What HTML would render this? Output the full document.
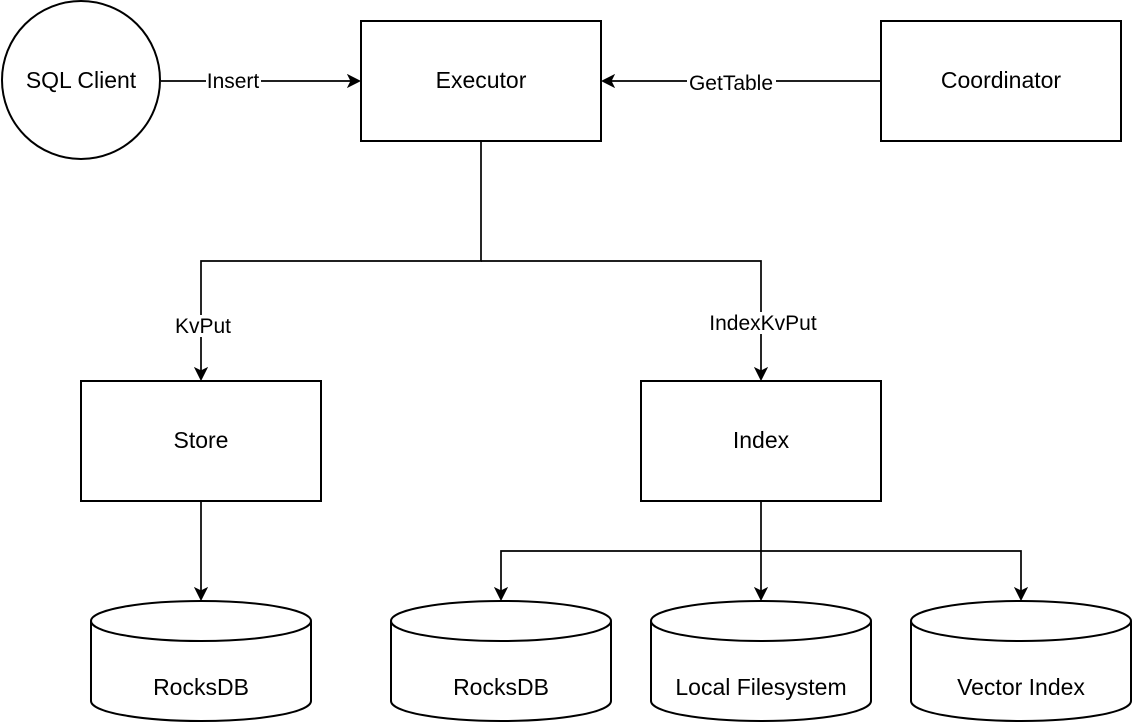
<!DOCTYPE html>
<html><head><meta charset="utf-8"><style>
html,body{margin:0;padding:0;background:#fff;}
svg{display:block;}
text{font-family:"Liberation Sans",Arial,sans-serif;fill:#000;}
</style></head><body>
<svg width="1132" height="722" viewBox="0 0 1132 722" xmlns="http://www.w3.org/2000/svg">
<defs>
<marker id="a" markerWidth="14" markerHeight="14" refX="12" refY="7" orient="auto" markerUnits="userSpaceOnUse">
<path d="M1,1 L13,7 L1,13 L4,7 Z" fill="#000" stroke="#000" stroke-width="1"/>
</marker>
</defs>
<g stroke="#000" stroke-width="2" fill="#fff">
<circle cx="81" cy="80" r="79"/>
<rect x="361" y="21" width="240" height="120"/>
<rect x="881" y="21" width="240" height="120"/>
<rect x="81" y="381" width="240" height="120"/>
<rect x="641" y="381" width="240" height="120"/>
</g>
<g stroke="#000" stroke-width="1.7" fill="none">
<path d="M161,81 H359" marker-end="url(#a)"/>
<path d="M881,81 H603" marker-end="url(#a)"/>
<path d="M481,141 V261 H201 V379" marker-end="url(#a)"/>
<path d="M481,261 H761 V379" marker-end="url(#a)"/>
<path d="M201,501 V599" marker-end="url(#a)"/>
<path d="M761,501 V599" marker-end="url(#a)"/>
<path d="M761,551 H501 V599" marker-end="url(#a)"/>
<path d="M761,551 H1021 V599" marker-end="url(#a)"/>
</g>
<g stroke="#000" stroke-width="2" fill="#fff">
<path d="M91,621 A110,20 0 0 1 311,621 V701 A110,20 0 0 1 91,701 Z"/>
<path d="M91,621 A110,20 0 0 0 311,621" fill="none"/>
<path d="M391,621 A110,20 0 0 1 611,621 V701 A110,20 0 0 1 391,701 Z"/>
<path d="M391,621 A110,20 0 0 0 611,621" fill="none"/>
<path d="M651,621 A110,20 0 0 1 871,621 V701 A110,20 0 0 1 651,701 Z"/>
<path d="M651,621 A110,20 0 0 0 871,621" fill="none"/>
<path d="M911,621 A110,20 0 0 1 1131,621 V701 A110,20 0 0 1 911,701 Z"/>
<path d="M911,621 A110,20 0 0 0 1131,621" fill="none"/>
</g>
<g font-size="23" text-anchor="middle">
<text x="81" y="88">SQL Client</text>
<text x="481" y="88">Executor</text>
<text x="1001" y="88">Coordinator</text>
<text x="201" y="448">Store</text>
<text x="761" y="448">Index</text>
<text x="201" y="695">RocksDB</text>
<text x="501" y="695">RocksDB</text>
<text x="761" y="695">Local Filesystem</text>
<text x="1021" y="695">Vector Index</text>
</g>
<g font-size="21" text-anchor="middle">
<rect x="206" y="70" width="55" height="22" fill="#fff"/>
<text x="233" y="88">Insert</text>
<rect x="687" y="72" width="89" height="22" fill="#fff"/>
<text x="731" y="90">GetTable</text>
<rect x="172" y="315" width="62" height="22" fill="#fff"/>
<text x="203" y="333">KvPut</text>
<rect x="705" y="312" width="116" height="22" fill="#fff"/>
<text x="763" y="330">IndexKvPut</text>
</g>
</svg>
</body></html>
